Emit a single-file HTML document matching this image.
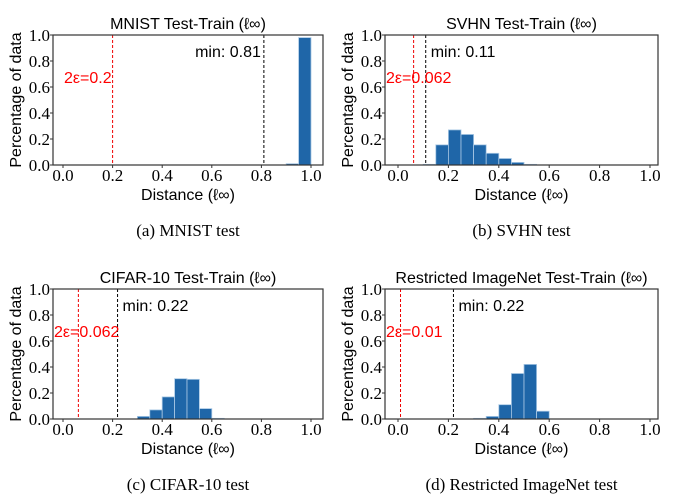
<!DOCTYPE html>
<html><head><meta charset="utf-8">
<style>
body{margin:0;background:#fff;}
svg{display:block;}
.t{font-family:"Liberation Sans","DejaVu Sans",sans-serif;font-size:16px;}
.s{font-family:"Liberation Serif",serif;font-size:17px;}
</style></head>
<body>
<svg id="fig" width="679" height="497" viewBox="0 0 679 497" xmlns="http://www.w3.org/2000/svg"></svg>
<script>
const mnistBins = [0.90,0.95];
const mnistVals = [0.01,0.98];
const svhnBins = [0.10,0.15,0.20,0.25,0.30,0.35,0.40,0.45,0.50];
const svhnVals = [0.005,0.155,0.27,0.235,0.155,0.09,0.05,0.02,0.005];
const cifarBins = [0.30,0.35,0.40,0.45,0.50,0.55,0.60];
const cifarVals = [0.02,0.07,0.17,0.31,0.305,0.08,0.005];
const imnetBins = [0.30,0.35,0.40,0.45,0.50,0.55];
const imnetVals = [0.005,0.02,0.11,0.35,0.42,0.06];
const xTicks = ["0.0","0.2","0.4","0.6","0.8","1.0"];
const yTicks = ["0.0","0.2","0.4","0.6","0.8","1.0"];
const panels = [
 {name:"mnist",title:"MNIST Test-Train (ℓ∞)",cap:"(a) MNIST test",bins:mnistBins,vals:mnistVals,eps:0.2,epsLabel:"2ε=0.2",minv:0.81,box:[53,35,323,165],x0:63,x1:311},
 {name:"svhn",title:"SVHN Test-Train (ℓ∞)",cap:"(b) SVHN test",bins:svhnBins,vals:svhnVals,eps:0.062,epsLabel:"2ε=0.062",minv:0.11,box:[385,35,658,165],x0:398,x1:650},
 {name:"cifar",title:"CIFAR-10 Test-Train (ℓ∞)",cap:"(c) CIFAR-10 test",bins:cifarBins,vals:cifarVals,eps:0.062,epsLabel:"2ε=0.062",minv:0.22,box:[53,289,323,419],x0:63,x1:311},
 {name:"imagenet",title:"Restricted ImageNet Test-Train (ℓ∞)",cap:"(d) Restricted ImageNet test",bins:imnetBins,vals:imnetVals,eps:0.01,epsLabel:"2ε=0.01",minv:0.22,box:[385,289,658,419],x0:398,x1:650}
];
const NS="http://www.w3.org/2000/svg";
const svg=document.getElementById('fig');
function mk(tag,attrs,parent,text){const e=document.createElementNS(NS,tag);for(const k in attrs)e.setAttribute(k,attrs[k]);if(text!==undefined)e.textContent=text;parent.appendChild(e);return e;}
panels.forEach(p=>{
  const g=mk('g',{},svg);
  
  
  const [L,T,R,B]=p.box;
  const xs=v=>p.x0+(p.x1-p.x0)*v;
  const ys=v=>B-(B-T)*v;
  const bw=xs(0.05)-xs(0);
  p.bins.forEach((b,i)=>{
    const r=mk('rect',{x:xs(b),y:ys(p.vals[i]),width:bw,height:B-ys(p.vals[i]),fill:'#1f66a8',stroke:'#a9c8e4','stroke-width':0.8},g);
    
    
  });
  const el=mk('line',{x1:xs(p.eps),x2:xs(p.eps),y1:T,y2:B,stroke:'#e00','stroke-width':1,'stroke-dasharray':'3,2'},g);
  
  
  const ml=mk('line',{x1:xs(p.minv),x2:xs(p.minv),y1:T,y2:B,stroke:'#000','stroke-width':1,'stroke-dasharray':'3,2'},g);
  
  
  const box=mk('rect',{x:L,y:T,width:R-L,height:B-T,fill:'none',stroke:'#333','stroke-width':1.2},g);
  
  
  xTicks.forEach(t=>{const x=xs(parseFloat(t));
    mk('line',{x1:x,x2:x,y1:B,y2:B+3,stroke:'#333'},g);
    const tx=mk('text',{x:x,y:B+16,'text-anchor':'middle',class:'s'},g,t);
    
    
  });
  yTicks.forEach(t=>{const y=ys(parseFloat(t));
    mk('line',{x1:L-3,x2:L,y1:y,y2:y,stroke:'#333'},g);
    const tx=mk('text',{x:L-3,y:y+6,'text-anchor':'end',class:'s'},g,t);
    
    
  });
  const tt=mk('text',{x:(L+R)/2,y:T-6,'text-anchor':'middle',class:'t'},g,p.title);
  
  
  const xl=mk('text',{x:(L+R)/2,y:B+35,'text-anchor':'middle',class:'t'},g,'Distance (ℓ∞)');
  
  
  const yl=mk('text',{x:0,y:0,'text-anchor':'middle',class:'t',transform:`translate(${L-32},${(T+B)/2}) rotate(-90)`},g,'Percentage of data');
  
  
  const small=p.eps<0.1;
  const et=mk('text',{x:small?L+1:xs(p.eps)-1,y:T+48,'text-anchor':small?'start':'end',class:'t',fill:'#f00'},g,p.epsLabel);
  
  
  const mt=mk('text',{x:p.minv>0.5?xs(p.minv)-3:xs(p.minv)+5,y:T+22,'text-anchor':p.minv>0.5?'end':'start',class:'t'},g,'min:  '+p.minv.toFixed(2));
  
  
  const cp=mk('text',{x:(L+R)/2,y:B+71,'text-anchor':'middle',class:'s',style:'font-size:17px'},g,p.cap);
  
  
});
</script>
</body></html>
